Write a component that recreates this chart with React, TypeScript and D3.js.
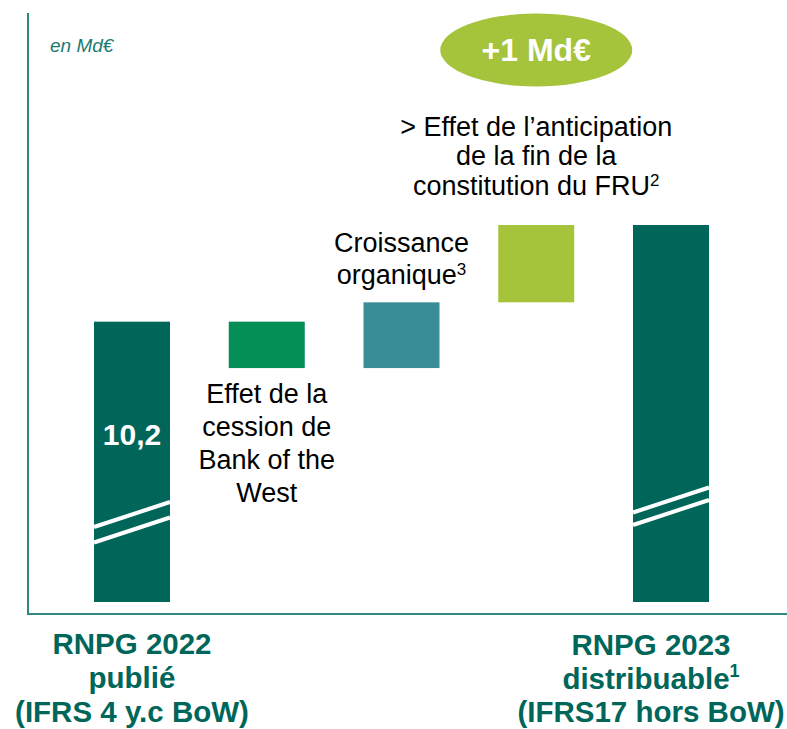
import React from "react";
import * as d3 from "d3";

const categories = [
  "RNPG 2022 publié",
  "Effet de la cession de Bank of the West",
  "Croissance organique",
  "Effet de l'anticipation de la fin de la constitution du FRU",
  "RNPG 2023 distribuable",
];
const values = [10.2, -0.48, 0.68, 0.8, 11.2];
const kinds = ["total", "delta", "delta", "delta", "total"];
const axisFloor = 7.3; // broken-axis floor value
const totalLabel = "10,2";
const deltaBadge = "+1 Md€";
const unitLabel = "en Md€";

const W = 787;
const H = 729;
const FONT = "'Liberation Sans', Arial, Helvetica, sans-serif";
const DARK = "#00665A";
const barColors = [DARK, "#068E57", "#3A8D97", "#A5C33B", DARK];
const AXIS = "#2E887F";

export default function App() {
  const x = d3.scaleBand<string>().domain(categories).range([94, 709]).paddingInner(0.436).paddingOuter(0);
  const y = d3.scaleLinear().domain([axisFloor, 11.2]).range([602, 225]);
  const bw = x.bandwidth();

  let running = 0;
  const bars = categories.map((c, i) => {
    let lo: number, hi: number;
    if (kinds[i] === "total") {
      lo = axisFloor;
      hi = values[i];
      running = values[i];
    } else {
      const start = running;
      const end = running + values[i];
      lo = Math.min(start, end);
      hi = Math.max(start, end);
      running = end;
    }
    return { c, i, lo, hi, x0: x(c) as number, cx: (x(c) as number) + bw / 2 };
  });

  const b = bars;
  const breakLine = (bar: typeof bars[0], cy: number) => {
    const half = 12.5;
    return (
      <line
        key={`br-${bar.i}-${cy}`}
        x1={bar.x0}
        x2={bar.x0 + bw}
        y1={cy + half}
        y2={cy - half}
        stroke="#fff"
        strokeWidth={4}
      />
    );
  };

  const sup = (t: string) => (
    <tspan fontSize={17} dy={-9}>
      {t}
    </tspan>
  );

  return (
    <svg
      width={W}
      height={H}
      style={{ position: "absolute", left: 0, top: 0, background: "#fff" }}
      fontFamily={FONT}
    >
      <line x1={28} x2={28} y1={13} y2={614} stroke={AXIS} strokeWidth={2} />
      <line x1={27} x2={W} y1={614} y2={614} stroke={AXIS} strokeWidth={2} />

      <text x={50} y={52} fontSize={19} fontStyle="italic" fill="#1A7A70">
        {unitLabel}
      </text>

      {bars.map((bar) => (
        <rect
          key={bar.c}
          x={bar.x0}
          y={y(bar.hi)}
          width={bw}
          height={y(bar.lo) - y(bar.hi)}
          fill={barColors[bar.i]}
        />
      ))}

      {breakLine(b[0], 514.5)}
      {breakLine(b[0], 530)}
      {breakLine(b[4], 500)}
      {breakLine(b[4], 512.5)}

      <text x={b[0].cx} y={y(b[0].hi) + 123} textAnchor="middle" fontSize={30} fontWeight="bold" fill="#fff">
        {totalLabel}
      </text>

      <text textAnchor="middle" fontSize={27} fill="#000">
        {["Effet de la", "cession de", "Bank of the", "West"].map((t, k) => (
          <tspan key={k} x={b[1].cx} y={y(b[1].lo) + 35 + k * 33}>
            {t}
          </tspan>
        ))}
      </text>

      <text textAnchor="middle" fontSize={27} fill="#000">
        <tspan x={b[2].cx} y={y(b[2].hi) - 50}>
          Croissance
        </tspan>
      </text>
      <text textAnchor="middle" fontSize={27} fill="#000">
        <tspan x={b[2].cx} y={y(b[2].hi) - 18}>
          organique
        </tspan>
        {sup("3")}
      </text>

      <text textAnchor="middle" fontSize={27} fill="#000">
        <tspan x={b[3].cx} y={y(b[3].hi) - 89}>
          {"> Effet de l\u2019anticipation"}
        </tspan>
        <tspan x={b[3].cx} y={y(b[3].hi) - 60}>
          de la fin de la
        </tspan>
        <tspan x={b[3].cx} y={y(b[3].hi) - 30}>
          constitution du FRU
        </tspan>
        {sup("2")}
      </text>

      <ellipse cx={b[3].cx} cy={50} rx={96} ry={36.5} fill="#A5C33B" />
      <text x={b[3].cx} y={61} textAnchor="middle" fontSize={32} fontWeight="bold" fill="#fff">
        {deltaBadge}
      </text>

      <text textAnchor="middle" fontSize={29.5} fontWeight="bold" fill={DARK}>
        <tspan x={b[0].cx} y={654}>RNPG 2022</tspan>
        <tspan x={b[0].cx} y={688}>publié</tspan>
        <tspan x={b[0].cx} y={721.5}>(IFRS 4 y.c BoW)</tspan>
      </text>
      <text textAnchor="middle" fontSize={29.5} fontWeight="bold" fill={DARK}>
        <tspan x={b[4].cx - 20} y={655}>RNPG 2023</tspan>
        <tspan x={b[4].cx - 20} y={689}>distribuable</tspan>
        <tspan fontSize={18} dy={-12}>1</tspan>
        <tspan x={b[4].cx - 20} y={722}>(IFRS17 hors BoW)</tspan>
      </text>
    </svg>
  );
}
